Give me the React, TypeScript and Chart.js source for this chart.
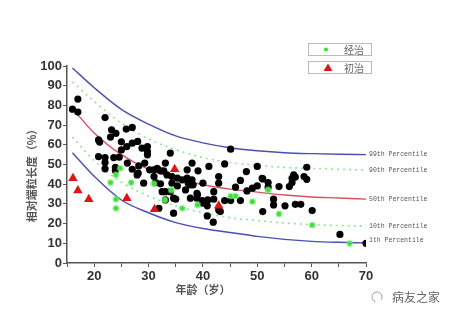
import React, { useEffect, useRef } from "react";
import { Chart, registerables } from "chart.js";

Chart.register(...registerables);

// ---- Data ----
const curveAges = [16, 20, 25, 30, 35, 40, 45, 50, 55, 60, 65, 70];
const p99 = [99, 89, 78, 70.5, 64.5, 61, 58.5, 57, 56, 55.5, 55.2, 55];
const p90 = [92, 82, 71, 63, 57.5, 53.5, 51, 49.5, 48.5, 48, 47.5, 47.3];
const p50 = [78.5, 66, 55, 47.5, 43, 39.7, 37.5, 36, 34.5, 33.5, 33, 32.4];
const p10 = [64, 52, 41, 34, 29, 25.5, 23, 21.5, 20.3, 19.5, 19, 18.8];
const p1 = [56, 44, 32, 25.5, 20.5, 17.5, 15.5, 13.5, 12, 11, 10.5, 10.2];
const percentileLabels = ["99th Percentile", "90th Percentile", "50th Percentile", "10th Percentile", "1th Percentile"];

const blackAge = [
  16, 17, 17, 20.8, 21, 22, 23.2, 24, 23, 20.8, 22, 23.6, 24.6, 22, 22, 23.9, 23.9,
  25.9, 27, 25, 27, 28, 26, 28.8, 29.8, 29.8, 25, 29.8, 26.1, 27, 28.2, 29.3, 28.1,
  30.2, 31.6, 31, 33.1, 34, 32.2, 32.8, 33.4, 34.3, 35.3, 36.2, 37.1, 38, 31, 27.9,
  29.1, 31.3, 32.2, 33.1, 34.3, 35.3, 37.3, 38.2, 32.5, 34, 38.9, 38.9, 35, 33.1,
  34.6, 36.8, 37.7, 31.9, 34.6, 39.9, 40.8, 40.8, 41.9, 45.1, 38, 37.1, 39.1, 41.1,
  44, 48, 50, 40, 42.9, 42.9, 46.9, 46, 48.1, 49.1, 50, 51, 52, 52, 54, 55.9, 56.4,
  56.4, 56.7, 57, 58.6, 59.1, 59.1, 37.7, 39, 39.9, 40.9, 42, 42, 44, 45.1, 46.9,
  42.9, 43.2, 51, 53, 53, 55.1, 57, 58, 60.1, 65.2, 70, 50.9,
];
const blackLen = [
  78.1, 83.2, 76.6, 62.5, 61.4, 73.8, 67.6, 65.8, 63.9, 54, 53.5, 53.5, 53.7, 51, 47.8, 48.5, 47,
  68, 68.8, 61.5, 60.8, 61.7, 59.1, 58.3, 59.1, 56.6, 57.4, 54.9, 50.7, 47.6, 49.3, 50.7, 45.6,
  47.3, 48.1, 47.3, 50.7, 55.8, 46.8, 46.8, 44.7, 43.9, 43.1, 42.2, 43.1, 42.2, 43.9, 44.7,
  40.5, 40.8, 40.2, 36.2, 40.5, 39.1, 40.5, 39.7, 36.2, 36.2, 35.4, 32.9, 32.4, 32,
  32.9, 37.1, 32.9, 27.8, 25.3, 30.4, 29, 23.9, 20.7, 57.8, 50.7, 47.3, 46.8, 49,
  50.3, 46.4, 49, 40.5, 43.9, 40.5, 41.9, 38.5, 36.6, 38, 39.1, 42.7, 40.8, 38.5, 38.8, 38.8, 40.8,
  43, 44.7, 43.6, 43.9, 48.6, 42.5, 39.7, 34.6, 31.7, 32, 36.2, 32.4, 31.7, 31.7, 31.7,
  26.9, 26.1, 26.1, 32.4, 29.5, 29, 29.8, 29.8, 26.6, 14.5, 10, 43,
];
const treatedAge = [24.8, 24, 23, 26.8, 24, 24, 31, 34.2, 33, 36.2, 45.1, 46, 49.1, 39, 52, 54, 60.1, 67];
const treatedLen = [48.1, 44.7, 40.8, 40.8, 32.4, 27.8, 40.2, 37.1, 32, 27.8, 34, 34, 31.2, 29.5, 37.1, 24.9, 19.3, 10];
const naiveAge = [16.1, 17, 19, 26, 31.1, 34.8, 42.9];
const naiveLen = [43, 36.8, 32.4, 32.9, 27.3, 47.6, 29];

const legendTreated = "经治";
const legendNaive = "初治";
const xTitle = "年龄（岁）";
const yTitle = "相对端粒长度（%）";
const watermark = "病友之家";

const pts = (xs: number[], ys: number[]) => xs.map((x, i) => ({ x, y: ys[i] }));

const BLUE = "#4b4fb3";
const RED = "#d9505e";
const GREEN_DOT = "#93e493";

export default function App() {
  const ref = useRef<HTMLCanvasElement | null>(null);

  useEffect(() => {
    document.body.style.margin = "0";
    const canvas = ref.current;
    if (!canvas) return;

    const curveStyle = (data: number[], color: string, dashed: boolean) => ({
      type: "line" as const,
      data: pts(curveAges, data),
      borderColor: color,
      borderWidth: dashed ? 1.6 : 1.4,
      borderDash: dashed ? [2, 4] : [],
      pointRadius: 0,
      showLine: true,
      fill: false,
      cubicInterpolationMode: "monotone" as const,
      order: 10,
    });

    const overlay = {
      id: "overlay",
      afterDatasetsDraw(chart: any) {
        const ctx = chart.ctx as CanvasRenderingContext2D;
        const xs = chart.scales.x;
        const ys = chart.scales.y;
        ctx.save();
        // percentile labels
        ctx.font = "6.5px 'Liberation Mono', monospace";
        ctx.fillStyle = "#555";
        ctx.textBaseline = "middle";
        ctx.textAlign = "left";
        const ends = [p99, p90, p50, p10, p1];
        ends.forEach((arr, i) => {
          const px = xs.getPixelForValue(curveAges[curveAges.length - 1]);
          let py = ys.getPixelForValue(arr[arr.length - 1]);
          if (i === 4) py -= 3;
          ctx.fillText(percentileLabels[i], px + 3, py);
        });
        // legend boxes
        ctx.strokeStyle = "#bcbcbc";
        ctx.lineWidth = 1;
        ctx.strokeRect(308.5, 43.5, 63, 12);
        ctx.strokeRect(308.5, 61.5, 63, 12);
        ctx.fillStyle = "#3ddc3d";
        ctx.beginPath();
        ctx.arc(326, 49.5, 2, 0, Math.PI * 2);
        ctx.fill();
        ctx.fillStyle = "#dd1515";
        ctx.beginPath();
        ctx.moveTo(328, 63.5);
        ctx.lineTo(332.5, 71);
        ctx.lineTo(323.5, 71);
        ctx.closePath();
        ctx.fill();
        ctx.fillStyle = "#666";
        ctx.font = "10px 'Noto Sans CJK SC', sans-serif";
        ctx.textAlign = "left";
        ctx.fillText(legendTreated, 344, 50);
        ctx.fillText(legendNaive, 344, 68);
        // axis titles
        ctx.fillStyle = "#555";
        ctx.font = "bold 11px 'Noto Sans CJK SC', sans-serif";
        ctx.textAlign = "center";
        ctx.fillText(xTitle, 203, 290);
        ctx.save();
        ctx.translate(32, 173);
        ctx.rotate(-Math.PI / 2);
        ctx.fillText(yTitle, 0, 0);
        ctx.restore();
        // watermark
        ctx.strokeStyle = "#999";
        ctx.lineWidth = 1;
        ctx.beginPath();
        ctx.arc(377, 297, 5, Math.PI * 0.6, Math.PI * 2.2);
        ctx.stroke();
        ctx.fillStyle = "#666";
        ctx.font = "12px 'Noto Sans CJK SC', sans-serif";
        ctx.textAlign = "left";
        ctx.fillText(watermark, 392, 297);
        ctx.restore();
      },
    };

    const chart = new Chart(canvas, {
      type: "scatter",
      data: {
        datasets: [
          curveStyle(p99, BLUE, false),
          curveStyle(p90, GREEN_DOT, true),
          curveStyle(p50, RED, false),
          curveStyle(p10, GREEN_DOT, true),
          curveStyle(p1, BLUE, false),
          {
            type: "scatter",
            data: pts(blackAge, blackLen),
            backgroundColor: "#000",
            borderColor: "#000",
            pointRadius: 3.6,
            borderWidth: 0,
            order: 3,
          },
          {
            type: "scatter",
            data: pts(treatedAge, treatedLen),
            backgroundColor: "#3ddc3d",
            borderColor: "rgba(120,240,120,0.5)",
            borderWidth: 2,
            pointRadius: 2.6,
            order: 2,
          },
          {
            type: "scatter",
            data: pts(naiveAge, naiveLen),
            backgroundColor: "#dd1515",
            borderColor: "#dd1515",
            pointStyle: "triangle",
            pointRadius: 5.5,
            borderWidth: 0,
            order: 1,
          },
        ] as any,
      },
      options: {
        animation: false,
        responsive: false,
        maintainAspectRatio: false,
        layout: { padding: { left: 0, right: 84, top: 66, bottom: 0 } },
        plugins: { legend: { display: false }, tooltip: { enabled: false } },
        scales: {
          x: {
            type: "linear",
            min: 15,
            max: 70,
            afterFit: (s: any) => {
              s.height = 54;
            },
            border: { display: true, color: "#555", width: 1.5 },
            grid: { drawOnChartArea: false, tickLength: 4, color: "#555" },
            ticks: {
              stepSize: 5,
              padding: 2,
              color: "#333",
              font: { family: "'Liberation Sans', Arial, sans-serif", size: 13, weight: "bold" },
              callback: (v: any) => (Number(v) % 10 === 0 ? String(v) : ""),
            },
          },
          y: {
            type: "linear",
            min: 0,
            max: 100,
            afterFit: (s: any) => {
              s.width = 67;
            },
            border: { display: true, color: "#555", width: 1.5 },
            grid: { drawOnChartArea: false, tickLength: 4, color: "#555" },
            ticks: {
              stepSize: 5,
              padding: 1,
              color: "#333",
              font: { family: "'Liberation Sans', Arial, sans-serif", size: 13, weight: "bold" },
              callback: (v: any) => (Number(v) % 10 === 0 ? String(v) : ""),
            },
          },
        },
      } as any,
      plugins: [overlay],
    });
    return () => chart.destroy();
  }, []);

  return (
    <div style={{ position: "absolute", left: 0, top: 0, width: 450, height: 317, background: "#fff" }}>
      <canvas ref={ref} width={450} height={317} style={{ width: 450, height: 317 }} />
    </div>
  );
}
